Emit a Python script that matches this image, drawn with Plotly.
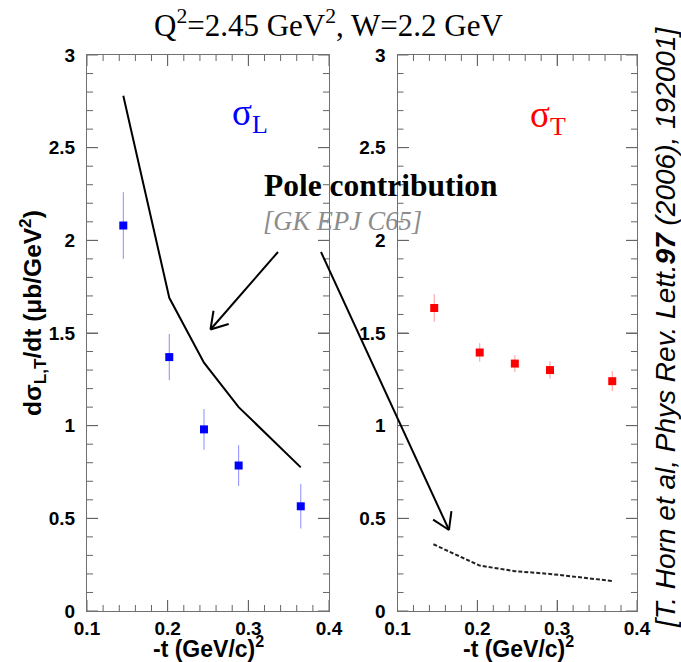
import numpy as np
import plotly.graph_objects as go

# ---------------- data ----------------
t_L = [0.145, 0.202, 0.245, 0.288, 0.365]
sigma_L = [2.08, 1.37, 0.98, 0.785, 0.565]
sigma_L_err = [0.18, 0.125, 0.11, 0.11, 0.12]

t_T = [0.146, 0.203, 0.247, 0.291, 0.369]
sigma_T = [1.635, 1.395, 1.335, 1.30, 1.24]
sigma_T_err = [0.075, 0.05, 0.045, 0.047, 0.055]

pole_t_L = [0.145, 0.202, 0.245, 0.288, 0.365]
pole_L = [2.78, 1.69, 1.34, 1.10, 0.775]
pole_t_T = [0.145, 0.203, 0.247, 0.291, 0.369]
pole_T = [0.36, 0.245, 0.215, 0.20, 0.162]

x_range = [0.1, 0.4]
x_major, x_minor = 0.1, 0.02
y_range = [0, 3]
y_major, y_minor = 0.5, 0.1

# ---------------- layout geometry ----------------
W, H = 681, 662
ML, MR, MT, MB = 87, 44, 55, 51
PW = W - ML - MR
PH = H - MT - MB
LEFT_DOM = [0, (329 - ML) / PW]
RIGHT_DOM = [(397.5 - ML) / PW, 1]


def px(x):
    return (x - ML) / PW


def py(y):
    return (H - MB - y) / PH


fig = go.Figure()

fig.add_trace(go.Scatter(
    x=pole_t_L, y=pole_L, mode="lines",
    line=dict(color="black", width=2), xaxis="x", yaxis="y", showlegend=False))
fig.add_trace(go.Scatter(
    x=t_L, y=sigma_L, mode="markers",
    marker=dict(symbol="square", size=8, color="#0000ff"),
    error_y=dict(type="data", array=sigma_L_err, color="#8c8cff", thickness=1, width=0),
    xaxis="x", yaxis="y", showlegend=False))

fig.add_trace(go.Scatter(
    x=pole_t_T, y=pole_T, mode="lines",
    line=dict(color="#222222", width=2, dash="4px,2px"), xaxis="x2", yaxis="y2", showlegend=False))
fig.add_trace(go.Scatter(
    x=t_T, y=sigma_T, mode="markers",
    marker=dict(symbol="square", size=8, color="#ff0000"),
    error_y=dict(type="data", array=sigma_T_err, color="#ff9c9c", thickness=1, width=0),
    xaxis="x2", yaxis="y2", showlegend=False))

axcol = "#707070"
tkcol = "#666666"
tickfont = dict(family="Liberation Sans, Arial", size=19, color="black", weight="bold")
base = dict(showline=True, linecolor=axcol, linewidth=1, mirror="allticks", ticks="inside",
            tickcolor=tkcol, tickwidth=1, showgrid=False, zeroline=False, tickmode="linear")
xmajor = dict(base, range=x_range, ticklen=11, tick0=x_range[0], dtick=x_major,
              tickformat=".1f", tickfont=tickfont)
ymajor = dict(base, range=y_range, ticklen=11, tick0=0, dtick=y_major, tickfont=tickfont,
              ticklabelstandoff=7)

fig.update_layout(
    width=W, height=H,
    margin=dict(l=ML, r=MR, t=MT, b=MB),
    paper_bgcolor="white", plot_bgcolor="white",
    xaxis=dict(domain=LEFT_DOM, anchor="y", **xmajor),
    yaxis=dict(domain=[0, 1], anchor="x", **ymajor),
    xaxis2=dict(domain=RIGHT_DOM, anchor="y2", **xmajor),
    yaxis2=dict(domain=[0, 1], anchor="x2", **ymajor),
)

ann = []
serif = "Liberation Serif, Times New Roman"
sans = "Liberation Sans, Arial"
ann.append(dict(text="Q<sup>2</sup>=2.45 GeV<sup>2</sup>, W=2.2 GeV", x=px(328), y=py(24),
                font=dict(family=serif, size=31, color="black")))
ann.append(dict(text="σ<sub>L</sub>", x=px(250), y=py(115),
                font=dict(family=serif, size=37, color="#0000ff")))
ann.append(dict(text="σ<sub>T</sub>", x=px(548), y=py(118),
                font=dict(family=serif, size=37, color="#ff0000")))
ann.append(dict(text="<b>Pole contribution</b>", x=px(262), y=py(185), xanchor="left",
                font=dict(family=serif, size=31.5, color="black")))
ann.append(dict(text="<i>[GK EPJ C65]</i>", x=px(261), y=py(221), xanchor="left",
                font=dict(family=serif, size=26.5, color="#8c8c8c")))
ann.append(dict(text="<b>dσ<sub>L,T</sub>/dt (μb/GeV<sup>2</sup>)</b>", x=px(32), y=py(313),
                textangle=-90, font=dict(family=sans, size=24.5, color="black")))
ann.append(dict(text="<b>-t (GeV/c)<sup>2</sup></b>", x=px(208), y=py(647),
                font=dict(family=sans, size=23, color="black")))
ann.append(dict(text="<b>-t (GeV/c)<sup>2</sup></b>", x=px(518), y=py(647),
                font=dict(family=sans, size=23, color="black")))
ann.append(dict(text="<i>[T. Horn et al, Phys Rev. Lett.<b>97</b> (2006), 192001]</i>",
                x=px(666), y=py(328), textangle=-90,
                font=dict(family=sans, size=28, color="black")))
for a in ann:
    a.update(xref="paper", yref="paper", showarrow=False)
    a.setdefault("xanchor", "center")
    a.setdefault("yanchor", "middle")
fig.update_layout(annotations=ann)

shapes = []

# ---- frame tick marks (ROOT style, inside, on all four sides) via axis-referenced shapes ----
MAJOR_LEN, MINOR_LEN = 11, 6
x_vals = np.round(np.arange(x_range[0], x_range[1] + 1e-9, x_minor), 4)
y_vals = np.round(np.arange(y_range[0], y_range[1] + 1e-9, y_minor), 4)


def is_major(v, step, start):
    q = (v - start) / step
    return abs(q - round(q)) < 1e-6


for xa, ya, dom in (("x", "y", LEFT_DOM), ("x2", "y2", RIGHT_DOM)):
    panel_w = (dom[1] - dom[0]) * PW
    for v in x_vals:
        L = MAJOR_LEN if is_major(v, x_major, x_range[0]) else MINOR_LEN
        f = L / PH
        for y0, y1 in ((0, f), (1, 1 - f)):
            shapes.append(dict(type="line", xref=xa, yref=f"{ya} domain", x0=v, x1=v, y0=y0, y1=y1,
                               line=dict(color=tkcol, width=1), layer="above"))
    for v in y_vals:
        L = MAJOR_LEN if is_major(v, y_major, y_range[0]) else MINOR_LEN
        f = L / panel_w
        for x0, x1 in ((0, f), (1, 1 - f)):
            shapes.append(dict(type="line", xref=f"{xa} domain", yref=ya, x0=x0, x1=x1, y0=v, y1=v,
                               line=dict(color=tkcol, width=1), layer="above"))


# ---- open-headed arrows (ROOT style) ----
def arrow(tail, tip, head=19, half_angle=32):
    tx, ty = tail
    hx, hy = tip
    d = np.array([tx - hx, ty - hy], dtype=float)
    d /= np.linalg.norm(d)
    out = [dict(type="line", xref="paper", yref="paper", x0=px(tx), y0=py(ty), x1=px(hx), y1=py(hy),
                line=dict(color="black", width=2))]
    for s in (+1, -1):
        a = np.deg2rad(s * half_angle)
        r = np.array([d[0] * np.cos(a) - d[1] * np.sin(a), d[0] * np.sin(a) + d[1] * np.cos(a)])
        ex, ey = hx + head * r[0], hy + head * r[1]
        out.append(dict(type="line", xref="paper", yref="paper", x0=px(hx), y0=py(hy), x1=px(ex), y1=py(ey),
                        line=dict(color="black", width=2)))
    return out


shapes += arrow((278, 252), (210.5, 329.5))
shapes += arrow((321, 252), (449, 530))
fig.update_layout(shapes=shapes)

fig.write_html("out.html")
